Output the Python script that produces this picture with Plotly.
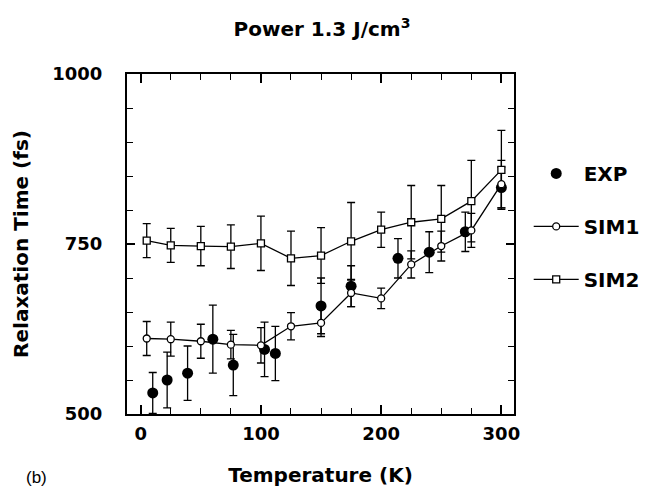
import plotly.graph_objects as go

# ---- data ----
sim_T = [5, 25, 50, 75, 100, 125, 150, 175, 200, 225, 250, 275, 300]
sim1_tau = [611, 610, 607, 602, 601, 629, 634, 678, 670, 720, 747, 770, 838]
sim1_err = [25, 25, 25, 21, 26, 20, 20, 20, 15, 20, 22, 25, 35]
sim2_tau = [755, 748, 747, 746, 751, 729, 733, 754, 771, 782, 787, 813, 859]
sim2_err = [25, 25, 29, 32, 40, 40, 41, 57, 26, 54, 49, 60, 58]

exp_T = [10, 22, 39, 60, 77, 103, 112, 150, 175, 214, 240, 270, 300]
exp_tau = [531, 550, 560, 610, 572, 595, 589, 659, 688, 729, 738, 768, 833]
exp_err = [30, 41, 40, 50, 45, 40, 40, 41, 30, 29, 30, 29, 30]

series_names = ["EXP", "SIM1", "SIM2"]
x_ticks = [0, 100, 200, 300]
y_ticks = [500, 750, 1000]

BOLD = "DejaVu Sans"
REG = "Liberation Sans"
fig = go.Figure()

def err_trace(x, y, e):
    return go.Scatter(
        x=x, y=y, mode="markers",
        marker=dict(size=1, color="rgba(0,0,0,0)"),
        error_y=dict(type="data", array=e, visible=True, color="black",
                     thickness=1.3, width=4),
        showlegend=False, hoverinfo="skip")

fig.add_trace(err_trace(sim_T, sim2_tau, sim2_err))
fig.add_trace(err_trace(sim_T, sim1_tau, sim1_err))
fig.add_trace(err_trace(exp_T, exp_tau, exp_err))

fig.add_trace(go.Scatter(
    x=exp_T, y=exp_tau, mode="markers", name=series_names[0], legendgroup="a",
    marker=dict(symbol="circle", size=11, color="black")))
fig.add_trace(go.Scatter(
    x=sim_T, y=sim1_tau, mode="lines+markers", name=series_names[1], legendgroup="b",
    line=dict(color="black", width=1.3),
    marker=dict(symbol="circle", size=7, color="white",
                line=dict(color="black", width=1.3))))
fig.add_trace(go.Scatter(
    x=sim_T, y=sim2_tau, mode="lines+markers", name=series_names[2], legendgroup="c",
    line=dict(color="black", width=1.3),
    marker=dict(symbol="square", size=7, color="white",
                line=dict(color="black", width=1.3))))

fig.update_layout(
    width=649, height=487,
    margin=dict(l=118, r=136, t=66, b=78),
    paper_bgcolor="white", plot_bgcolor="white",
    font=dict(family=BOLD, color="black"),
    title=dict(text="Power 1.3 J/cm<sup>3</sup>", x=314 / 649, xanchor="center",
               y=1 - 21 / 487, yanchor="middle",
               font=dict(size=20, family=BOLD, weight="bold")),
    legend=dict(x=1.038, y=0.765, xanchor="left", yanchor="top",
                font=dict(size=20, family=BOLD, weight="bold"), tracegroupgap=24,
                bgcolor="rgba(0,0,0,0)", itemwidth=45),
    showlegend=True,
)

fig.update_xaxes(
    range=[-11.4, 310.5], showline=True, linecolor="black", linewidth=2, mirror="ticks",
    ticks="inside", ticklen=9, tickwidth=1.5, tickcolor="black",
    tickvals=x_ticks, ticktext=[str(v) for v in x_ticks],
    tickfont=dict(size=18, family=BOLD, weight="bold"), ticklabelstandoff=2,
    minor=dict(dtick=25, tick0=0, ticks="inside", ticklen=6, tickwidth=1.2, tickcolor="black"),
    showgrid=False, zeroline=False,
    title=dict(text="Temperature (K)", font=dict(size=20, family=BOLD, weight="bold"),
               standoff=25),
)
fig.update_yaxes(
    range=[500, 1000], showline=True, linecolor="black", linewidth=2, mirror="ticks",
    ticks="inside", ticklen=8, tickwidth=1.5, tickcolor="black",
    tickvals=y_ticks, ticktext=[str(v) for v in y_ticks],
    tickfont=dict(size=18, family=BOLD, weight="bold"), ticklabelstandoff=19,
    minor=dict(dtick=50, tick0=500, ticks="inside", ticklen=6, tickwidth=1.2, tickcolor="black"),
    showgrid=False, zeroline=False,
    title=dict(text="Relaxation Time (fs)", font=dict(size=20, family=BOLD, weight="bold"),
               standoff=18),
)

fig.add_annotation(text="(b)", xref="paper", yref="paper",
                   x=-92 / 395, y=-64 / 343, xanchor="center", yanchor="middle",
                   showarrow=False, font=dict(size=17, family=REG))

fig.write_html("out.html")
